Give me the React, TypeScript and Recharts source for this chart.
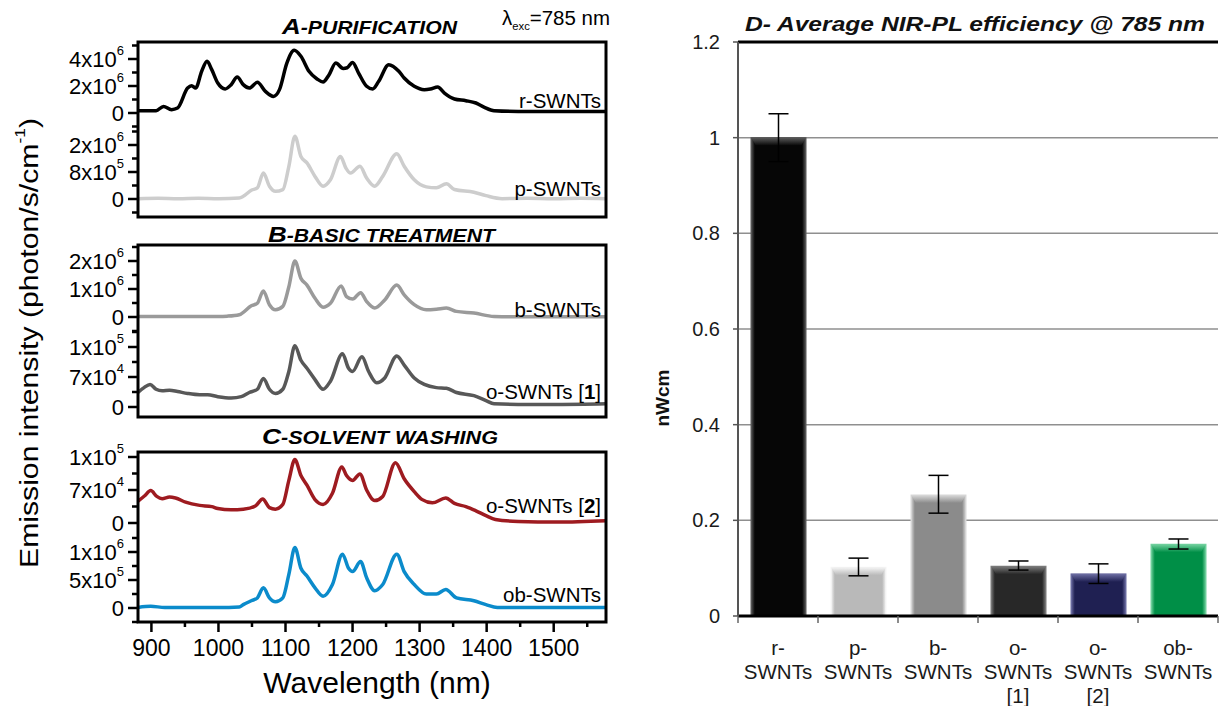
import React from 'react';
import { LineChart, Line, XAxis, YAxis, BarChart, Bar, CartesianGrid, ErrorBar, ReferenceLine } from 'recharts';

const FONT = '"Liberation Sans", Arial, Helvetica, sans-serif';

// ---------- Spectra (wavelength in nm, intensity in panel units) ----------
const rWl = [880, 907, 918, 930, 939, 954, 960, 966, 975, 983, 990, 999, 1010, 1019, 1028, 1037, 1046, 1058, 1070, 1082, 1091, 1102, 1113, 1123, 1135, 1147, 1156, 1165, 1175, 1186, 1192, 1200, 1209, 1221, 1230, 1239, 1254, 1269, 1277, 1292, 1307, 1316, 1327, 1337, 1352, 1369, 1384, 1396, 1411, 1447, 1578];
const rVal = [0.17, 0.17, 0.49, 0.25, 0.37, 1.85, 2.02, 1.85, 3.09, 3.83, 3.21, 2.22, 1.78, 2.10, 2.67, 2.10, 1.85, 2.27, 1.60, 1.23, 1.73, 3.70, 4.64, 4.20, 3.09, 2.52, 2.30, 2.84, 3.70, 3.30, 3.35, 3.75, 2.96, 1.98, 1.78, 2.35, 3.58, 3.09, 2.59, 1.98, 1.73, 1.78, 1.93, 1.48, 1.04, 0.91, 0.74, 0.44, 0.17, 0.12, 0.12]; // x10^6

const pWl = [880, 910, 940, 970, 1000, 1031, 1037, 1049, 1058, 1067, 1076, 1085, 1096, 1105, 1114, 1123, 1132, 1144, 1156, 1167, 1182, 1190, 1197, 1211, 1221, 1233, 1245, 1266, 1277, 1292, 1310, 1325, 1340, 1352, 1381, 1399, 1423, 1460, 1500, 1540, 1578];
const pVal = [0.01, 0.02, 0.01, 0.02, 0.01, 0.03, 0.08, 0.26, 0.33, 0.77, 0.38, 0.23, 0.28, 0.97, 1.86, 1.26, 1.07, 0.67, 0.38, 0.57, 1.26, 0.92, 0.77, 0.97, 0.62, 0.38, 0.67, 1.34, 0.97, 0.57, 0.36, 0.33, 0.45, 0.28, 0.2, 0.1, 0.01, 0.02, 0.01, 0.02, 0.01]; // x10^6

const bWl = [880, 920, 960, 1000, 1013, 1031, 1049, 1058, 1067, 1076, 1085, 1096, 1105, 1114, 1123, 1132, 1144, 1156, 1167, 1183, 1191, 1200, 1212, 1221, 1233, 1248, 1266, 1277, 1292, 1310, 1325, 1340, 1355, 1381, 1411, 1450, 1500, 1578];
const bVal = [0.02, 0.02, 0.02, 0.02, 0.03, 0.08, 0.4, 0.49, 0.93, 0.44, 0.26, 0.38, 1.08, 2.0, 1.38, 1.14, 0.67, 0.35, 0.49, 1.11, 0.73, 0.64, 0.87, 0.55, 0.32, 0.61, 1.14, 0.79, 0.44, 0.26, 0.28, 0.32, 0.2, 0.14, 0.02, 0.01, 0.01, 0.01]; // x10^6

const o1Wl = [880, 889, 898, 907, 916, 927, 939, 954, 972, 984, 999, 1019, 1034, 1046, 1058, 1067, 1076, 1085, 1096, 1105, 1114, 1123, 1132, 1144, 1156, 1167, 1185, 1194, 1200, 1214, 1224, 1236, 1248, 1266, 1277, 1292, 1307, 1325, 1340, 1355, 1381, 1399, 1411, 1447, 1506, 1578];
const o1Val = [3.39, 4.52, 5.27, 4.14, 3.77, 3.92, 3.61, 3.16, 2.86, 2.86, 2.41, 2.11, 2.41, 3.39, 4.14, 6.63, 4.14, 3.16, 4.14, 8.28, 14.3, 10.9, 9.04, 6.4, 4.14, 6.02, 12.4, 9.04, 8.28, 11.7, 8.28, 5.65, 6.78, 11.9, 9.79, 6.78, 5.27, 4.52, 4.37, 3.39, 2.64, 1.51, 0.75, 0.6, 0.6, 0.75]; // x10^4

const o2Wl = [880, 890, 899, 908, 916, 927, 936, 951, 972, 990, 999, 1019, 1037, 1055, 1066, 1076, 1085, 1096, 1105, 1114, 1123, 1132, 1144, 1156, 1170, 1184, 1191, 1200, 1211, 1221, 1233, 1245, 1264, 1277, 1292, 1304, 1319, 1339, 1352, 1369, 1384, 1399, 1413, 1447, 1506, 1578];
const o2Val = [4.62, 5.78, 6.87, 5.64, 5.17, 5.51, 5.3, 4.42, 3.74, 3.47, 3.06, 2.79, 2.92, 3.6, 5.1, 3.26, 2.92, 3.94, 9.04, 13.46, 10.06, 8.02, 4.96, 3.94, 6.32, 11.9, 10.06, 9.04, 10.4, 7.0, 4.76, 5.64, 12.78, 9.38, 6.66, 4.96, 4.28, 5.3, 4.15, 3.47, 2.58, 1.56, 0.75, 0.34, 0.2, 0.48]; // x10^4

const obWl = [880, 899, 920, 960, 1000, 1031, 1037, 1049, 1058, 1067, 1076, 1085, 1096, 1105, 1114, 1123, 1132, 1144, 1156, 1170, 1185, 1194, 1200, 1212, 1221, 1233, 1245, 1266, 1277, 1292, 1310, 1325, 1339, 1355, 1381, 1399, 1416, 1460, 1520, 1578];
const obVal = [0.01, 0.03, 0.01, 0.01, 0.01, 0.02, 0.06, 0.13, 0.18, 0.36, 0.18, 0.11, 0.18, 0.6, 1.08, 0.71, 0.57, 0.36, 0.21, 0.42, 0.96, 0.71, 0.65, 0.83, 0.54, 0.31, 0.42, 0.96, 0.65, 0.42, 0.25, 0.25, 0.33, 0.18, 0.13, 0.06, 0.01, 0.01, 0.01, 0.01]; // x10^6

// Tick labels (major ticks at 0, 1 step, 2 steps)
const rTickLabels = ['0', '2x10^6', '4x10^6'];
const pTickLabels = ['0', '8x10^5', '2x10^6'];
const bTickLabels = ['0', '1x10^6', '2x10^6'];
const o1TickLabels = ['0', '7x10^4', '1x10^5'];
const o2TickLabels = ['0', '7x10^4', '1x10^5'];
const obTickLabels = ['0', '5x10^5', '1x10^6'];
const wlTicks = [900, 950, 1000, 1050, 1100, 1150, 1200, 1250, 1300, 1350, 1400, 1450, 1500, 1550];
const wlDomain = [880, 1578];

// ---------- Bar chart ----------
const barCategories = ['r-SWNTs', 'p-SWNTs', 'b-SWNTs', 'o-SWNTs [1]', 'o-SWNTs [2]', 'ob-SWNTs'];
const barLabelLines = [['r-', 'SWNTs'], ['p-', 'SWNTs'], ['b-', 'SWNTs'], ['o-', 'SWNTs', '[1]'], ['o-', 'SWNTs', '[2]'], ['ob-', 'SWNTs']];
const barValues = [1.0, 0.102, 0.253, 0.104, 0.088, 0.15];
const barErrLow = [0.05, 0.018, 0.038, 0.008, 0.02, 0.01];
const barErrHigh = [0.05, 0.019, 0.041, 0.011, 0.021, 0.011];
const barTicks = [0, 0.2, 0.4, 0.6, 0.8, 1, 1.2];
const barColors = ['#060606', '#b9b9b9', '#8b8b8b', '#282828', '#1f2052', '#008f47'];
const barHighlights = ['#5a5a5a', '#f6f6f6', '#dadada', '#7c7c7c', '#6d6ea3', '#74d2a0'];

const barRows = barCategories.map((name, i) => ({ name, value: barValues[i], err: [barErrLow[i], barErrHigh[i]] }));

// ---------- layout of spectrum panels ----------
type Cfg = {
  key: string; top: number; h: number; zeroY: number; stepPx: number; stepVal: number;
  labels: string[]; wl: number[]; vals: number[]; color: string; showX?: boolean;
};

const panels: Cfg[] = [
  { key: 'r', top: 42, h: 87, zeroY: 113, stepPx: 27, stepVal: 2, labels: rTickLabels, wl: rWl, vals: rVal, color: '#000000' },
  { key: 'p', top: 129, h: 88, zeroY: 199, stepPx: 27, stepVal: 0.8, labels: pTickLabels, wl: pWl, vals: pVal, color: '#cdcdcd' },
  { key: 'b', top: 245, h: 86, zeroY: 317, stepPx: 28, stepVal: 1, labels: bTickLabels, wl: bWl, vals: bVal, color: '#9a9a9a' },
  { key: 'o1', top: 331, h: 86, zeroY: 407, stepPx: 30, stepVal: 7, labels: o1TickLabels, wl: o1Wl, vals: o1Val, color: '#585858' },
  { key: 'o2', top: 452, h: 84, zeroY: 523, stepPx: 33, stepVal: 7, labels: o2TickLabels, wl: o2Wl, vals: o2Val, color: '#9e1b20' },
  { key: 'ob', top: 536, h: 86, zeroY: 608, stepPx: 28, stepVal: 0.5, labels: obTickLabels, wl: obWl, vals: obVal, color: '#0b8bcb', showX: true },
];

const boxes = [
  { top: 42, h: 175 },
  { top: 245, h: 172 },
  { top: 452, h: 170 },
];

const PLOT_LEFT = 138;
const PLOT_RIGHT = 606;
const PAD = 18; // extra room around each spectrum chart so tick labels are not clipped

function SupLabel({ x, y, text, size, supSize, rise }: any) {
  const parts = text.split('^');
  return (
    <text x={x} y={y} textAnchor="end" dominantBaseline="central" fontSize={size} fill="#000" fontFamily={FONT}>
      {parts[0]}
      {parts[1] ? <tspan dy={-rise} fontSize={supSize}>{parts[1]}</tspan> : null}
    </text>
  );
}

function makeYTick(cfg: Cfg) {
  const half = cfg.stepVal / 2;
  return (props: any) => {
    const { x, y, payload } = props;
    const k = Math.round(payload.value / half);
    const major = k % 2 === 0 && k >= 0 && k <= 4;
    const len = major ? 10 : 6;
    return (
      <g>
        <line x1={x - len} x2={x} y1={y} y2={y} stroke="#000" strokeWidth={2.5} />
        {major ? <SupLabel x={x - 14} y={y} text={cfg.labels[k / 2]} size={22} supSize={13} rise={9} /> : null}
      </g>
    );
  };
}

const XTick = (props: any) => {
  const { x, y, payload } = props;
  const major = payload.value % 100 === 0;
  return (
    <g>
      <line x1={x} x2={x} y1={y} y2={y + (major ? 10 : 5)} stroke="#000" strokeWidth={2.5} />
      {major ? (
        <text x={x} y={y + 26} textAnchor="middle" dominantBaseline="central" fontSize={23} fill="#000" fontFamily={FONT}>
          {payload.value}
        </text>
      ) : null}
    </g>
  );
};

function SpectrumPanel({ cfg }: { cfg: Cfg }) {
  const data = cfg.wl.map((wl, i) => ({ wl, v: cfg.vals[i] }));
  const lo = ((cfg.zeroY - (cfg.top + cfg.h)) / cfg.stepPx) * cfg.stepVal;
  const hi = ((cfg.zeroY - cfg.top) / cfg.stepPx) * cfg.stepVal;
  const half = cfg.stepVal / 2;
  const ticks: number[] = [];
  for (let k = Math.ceil(lo / half - 1e-9); k <= Math.floor(hi / half + 1e-9); k++) ticks.push(k * half);
  const xH = cfg.showX ? 90 : 0;
  const bottomPad = cfg.showX ? 0 : PAD;
  const YTick = makeYTick(cfg);
  return (
    <div style={{ position: 'absolute', left: 0, top: cfg.top - PAD }}>
      <LineChart
        width={PLOT_RIGHT}
        height={cfg.h + xH + PAD + bottomPad}
        data={data}
        margin={{ top: PAD, right: 0, bottom: bottomPad, left: 0 }}
      >
        <XAxis
          dataKey="wl"
          type="number"
          domain={wlDomain}
          allowDataOverflow
          hide={!cfg.showX}
          height={xH || 1}
          ticks={wlTicks}
          interval={0}
          tick={<XTick />}
          tickSize={0}
          tickMargin={0}
          axisLine={false}
          tickLine={false}
        />
        <YAxis
          type="number"
          domain={[lo, hi]}
          allowDataOverflow
          width={PLOT_LEFT}
          ticks={ticks}
          interval={0}
          tick={<YTick />}
          tickSize={0}
          tickMargin={0}
          axisLine={false}
          tickLine={false}
        />
        <Line type="monotone" dataKey="v" stroke={cfg.color} strokeWidth={3.5} dot={false} isAnimationActive={false} />
      </LineChart>
    </div>
  );
}

const BevelBar = (props: any) => {
  const { x, y, width, height, index } = props;
  if (!height || height <= 0) return null;
  const c = barColors[index];
  const hl = barHighlights[index];
  const id = `bev${index}`;
  const strip = Math.min(8, height);
  return (
    <g>
      <defs>
        <linearGradient id={`${id}h`} x1="0" y1="0" x2="1" y2="0">
          <stop offset="0" stopColor={hl} />
          <stop offset="0.07" stopColor={c} />
          <stop offset="0.93" stopColor={c} />
          <stop offset="1" stopColor={hl} />
        </linearGradient>
        <linearGradient id={`${id}v`} x1="0" y1="0" x2="0" y2="1">
          <stop offset="0" stopColor={hl} />
          <stop offset="1" stopColor={c} />
        </linearGradient>
      </defs>
      <rect x={x} y={y} width={width} height={height} fill={`url(#${id}h)`} stroke={hl} strokeWidth={1} />
      <polygon
        points={`${x},${y} ${x + width},${y} ${x + width - 5},${y + strip} ${x + 5},${y + strip}`}
        fill={`url(#${id}v)`}
      />
    </g>
  );
};

const CatTick = (props: any) => {
  const { x, y, payload, index } = props;
  const i = barCategories.indexOf(payload.value);
  const lines = barLabelLines[i >= 0 ? i : index] || [];
  const half = 40;
  return (
    <g>
      <line x1={x - half} x2={x - half} y1={y} y2={y + 7} stroke="#666" strokeWidth={1.5} />
      {i === barCategories.length - 1 ? <line x1={x + half} x2={x + half} y1={y} y2={y + 7} stroke="#666" strokeWidth={1.5} /> : null}
      <text x={x} y={y} textAnchor="middle" fontSize={20.5} fill="#1a1a1a" fontFamily={FONT}>
        {lines.map((l, j) => (
          <tspan key={j} x={x} dy={j === 0 ? 39 : 24}>
            {l}
          </tspan>
        ))}
      </text>
    </g>
  );
};

export default function App() {
  return (
    <div style={{ position: 'absolute', left: 0, top: 0, width: 1219, height: 706, background: '#fff', overflow: 'hidden', fontFamily: FONT }}>
      {panels.map((cfg) => (
        <SpectrumPanel key={cfg.key} cfg={cfg} />
      ))}

      <div style={{ position: 'absolute', left: 640, top: 0 }}>
        <BarChart width={579} height={706} data={barRows} margin={{ top: 42, right: 1, bottom: 0, left: 0 }} barSize={55}>
          <CartesianGrid horizontal vertical={false} stroke="#8f8f8f" strokeWidth={1.5} />
          <XAxis
            dataKey="name"
            height={90}
            interval={0}
            tick={<CatTick />}
            tickSize={0}
            tickMargin={0}
            tickLine={false}
            axisLine={{ stroke: '#000', strokeWidth: 3 }}
          />
          <YAxis
            type="number"
            domain={[0, 1.2]}
            ticks={barTicks}
            interval={0}
            width={98}
            tickSize={5}
            tickMargin={13}
            tickLine={{ stroke: '#555', strokeWidth: 1.5 }}
            axisLine={{ stroke: '#555', strokeWidth: 2 }}
            tick={{ fontSize: 20, fill: '#1a1a1a', fontFamily: FONT }}
          />
          <YAxis yAxisId="frame" orientation="right" type="number" domain={[0, 1.2]} width={0} tick={false} tickLine={false} axisLine={{ stroke: '#000', strokeWidth: 3 }} />
          <ReferenceLine y={1.2} stroke="#000" strokeWidth={3} />
          <Bar dataKey="value" shape={BevelBar} isAnimationActive={false}>
            <ErrorBar dataKey="err" width={10} stroke="#000" strokeWidth={1.5} />
          </Bar>
        </BarChart>
      </div>

      <svg width={1219} height={706} style={{ position: 'absolute', left: 0, top: 0, pointerEvents: 'none' }} fontFamily={FONT}>
        {boxes.map((b, i) => (
          <rect key={i} x={PLOT_LEFT} y={b.top} width={PLOT_RIGHT - PLOT_LEFT} height={b.h} fill="none" stroke="#000" strokeWidth={3} />
        ))}

        <text x={282} y={34} textLength={175} lengthAdjust="spacingAndGlyphs" fontWeight="bold" fontStyle="italic" fill="#000">
          <tspan fontSize={22}>A</tspan>
          <tspan fontSize={18}>-PURIFICATION</tspan>
        </text>
        <text x={502} y={25} fontSize={20} textLength={108} lengthAdjust="spacingAndGlyphs" fill="#000">
          λ<tspan dy={5} fontSize={11}>exc</tspan>
          <tspan dy={-5}>=785 nm</tspan>
        </text>
        <text x={268} y={242} textLength={227} lengthAdjust="spacingAndGlyphs" fontWeight="bold" fontStyle="italic" fill="#000">
          <tspan fontSize={22}>B</tspan>
          <tspan fontSize={18}>-BASIC TREATMENT</tspan>
        </text>
        <text x={262} y={444} textLength={236} lengthAdjust="spacingAndGlyphs" fontWeight="bold" fontStyle="italic" fill="#000">
          <tspan fontSize={22}>C</tspan>
          <tspan fontSize={18}>-SOLVENT WASHING</tspan>
        </text>

        <text x={601} y={100} textAnchor="end" dominantBaseline="central" fontSize={20.5} fill="#000">r-SWNTs</text>
        <text x={601} y={188} textAnchor="end" dominantBaseline="central" fontSize={20.5} fill="#000">p-SWNTs</text>
        <text x={601} y={309} textAnchor="end" dominantBaseline="central" fontSize={20.5} fill="#000">b-SWNTs</text>
        <text x={601} y={391} textAnchor="end" dominantBaseline="central" fontSize={20.5} fill="#000">
          o-SWNTs [<tspan fontWeight="bold">1</tspan>]
        </text>
        <text x={601} y={505} textAnchor="end" dominantBaseline="central" fontSize={20.5} fill="#000">
          o-SWNTs [<tspan fontWeight="bold">2</tspan>]
        </text>
        <text x={601} y={594} textAnchor="end" dominantBaseline="central" fontSize={20.5} fill="#000">ob-SWNTs</text>

        <text x={377} y={682} textAnchor="middle" dominantBaseline="central" fontSize={30} fill="#000">Wavelength (nm)</text>
        <text
          transform="translate(29,343) rotate(-90)"
          x={-225}
          textLength={450}
          lengthAdjust="spacingAndGlyphs"
          dominantBaseline="central"
          fontSize={26}
          fill="#000"
        >
          Emission intensity (photon/s/cm<tspan dy={-10} fontSize={15}>-1</tspan>
          <tspan dy={10}>)</tspan>
        </text>

        <text x={745} y={31} textLength={460} lengthAdjust="spacingAndGlyphs" fontWeight="bold" fontStyle="italic" fontSize={21} fill="#111">
          D- Average NIR-PL efficiency @ 785 nm
        </text>
        <text transform="translate(662,398) rotate(-90)" textAnchor="middle" dominantBaseline="central" fontWeight="bold" fontSize={19} fill="#111">
          nWcm
        </text>
      </svg>
    </div>
  );
}
